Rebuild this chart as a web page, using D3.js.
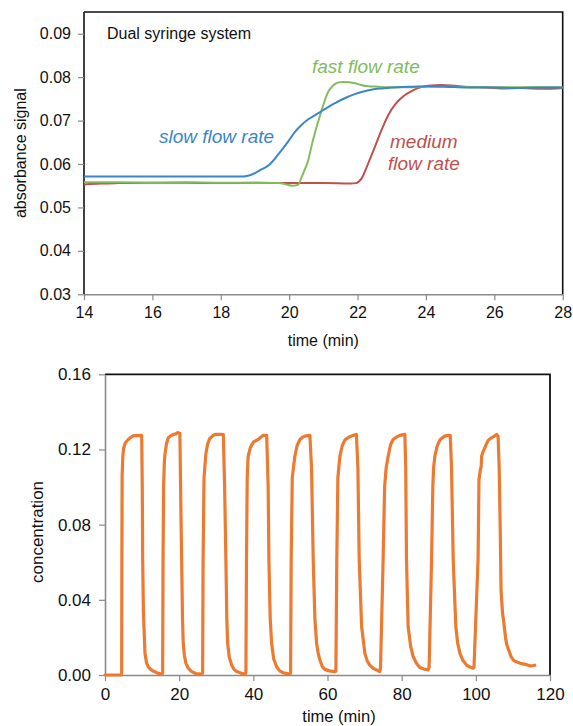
<!DOCTYPE html>
<html>
<head>
<meta charset="utf-8">
<script src="https://cdn.jsdelivr.net/npm/d3@7"></script>
<style>
  html, body { margin: 0; padding: 0; background: #fff; }
  svg { display: block; font-family: "Liberation Sans", Arial, sans-serif; }
</style>
</head>
<body>
<svg id="fig" width="573" height="726"></svg>
<script>
// ---- Panel A: absorbance after a step change (time in min, absorbance) ----
const slowFlow = [
  [14,0.0571],[16,0.0571],[18,0.0571],[18.56,0.0571],[18.8,0.0573],[19.0,0.0579],[19.15,0.0586],
  [19.4,0.0597],[19.6,0.0614],[19.78,0.0632],[20.0,0.0655],[20.17,0.0674],[20.36,0.069],
  [20.56,0.0703],[20.75,0.0712],[20.95,0.0722],[21.14,0.0731],[21.34,0.074],[21.53,0.0748],
  [21.73,0.0755],[21.92,0.0761],[22.12,0.0766],[22.4,0.0771],[22.7,0.0774],[23.19,0.0777],
  [23.6,0.0778],[24.1,0.0779],[24.6,0.0778],[25.2,0.0776],[26,0.0776],[26.6,0.0775],
  [27.3,0.0776],[28,0.0776]
];
const fastFlow = [
  [14,0.0558],[15,0.0558],[16,0.0557],[17,0.0558],[18,0.0557],[19,0.0557],[19.7,0.0556],
  [19.96,0.0552],[20.1,0.055],[20.26,0.0552],[20.37,0.0571],[20.47,0.059],[20.56,0.0609],
  [20.65,0.064],[20.75,0.0671],[20.85,0.0698],[20.95,0.0724],[21.05,0.0748],[21.14,0.0766],
  [21.24,0.0777],[21.34,0.0784],[21.46,0.0788],[21.58,0.0789],[21.75,0.0788],[21.92,0.0786],
  [22.1,0.0782],[22.31,0.0779],[22.6,0.0778],[22.9,0.0777],[23.5,0.0777],[24,0.0778],
  [25,0.0778],[26,0.0777],[27,0.0777],[28,0.0777]
];
const mediumFlow = [
  [14,0.0553],[14.5,0.0555],[15,0.0556],[16,0.0557],[17,0.0557],[18,0.0556],[19,0.0557],
  [20,0.0556],[21,0.0556],[21.8,0.0555],[21.95,0.0556],[22.12,0.0567],[22.31,0.0601],
  [22.51,0.064],[22.7,0.0678],[22.9,0.0713],[23.09,0.0736],[23.24,0.0749],[23.39,0.0759],
  [23.54,0.0766],[23.68,0.0772],[23.87,0.0777],[24.07,0.078],[24.46,0.0782],[24.85,0.078],
  [25.3,0.0777],[25.8,0.0776],[26.2,0.0774],[26.8,0.0775],[27.4,0.0773],[28,0.0775]
];
const absTicks = [0.03,0.04,0.05,0.06,0.07,0.08,0.09];
const timeTicksA = [14,16,18,20,22,24,26,28];

// ---- Panel B: repeated concentration pulses (time in min, concentration) ----
const pulseTrace = [
  [0,0],[4.45,0],
  [4.5,0.002],[4.55,0.06],[4.62,0.106],[4.8,0.116],[5.0,0.1205],[5.5,0.1236],[6.2,0.1252],
  [6.8,0.1262],[7.7,0.1274],[9.9,0.1275],[10.05,0.1],[10.16,0.0613],[10.35,0.035],[10.5,0.0258],
  [10.78,0.0116],[11.2,0.0065],[11.67,0.0044],[12.3,0.003],[13.0,0.0021],[14.2,0.001],[15.3,0.0005],
  [15.55,0.001],[15.65,0.06],[15.8,0.1],[16.0,0.113],[16.2,0.118],[16.6,0.1232],[17.06,0.1262],
  [17.7,0.1272],[18.4,0.128],[19.1,0.1283],[19.6,0.129],[19.9,0.1288],[20.2,0.1285],[20.45,0.09],
  [20.67,0.0613],[20.9,0.03],[21.1,0.0169],[21.4,0.0105],[21.83,0.0062],[22.5,0.0035],
  [23.37,0.0018],[24.5,0.0008],[26.1,0.0005],
  [26.33,0.001],[26.45,0.06],[26.7,0.105],[27.22,0.118],[27.7,0.123],[28.3,0.126],[29.0,0.1272],
  [29.65,0.128],[31.0,0.128],[31.9,0.128],[32.26,0.1],[32.6,0.0613],[32.85,0.03],[33.07,0.0169],
  [33.5,0.0095],[34.15,0.0053],[34.8,0.003],[35.5,0.0018],[36.6,0.001],[37.8,0.0005],
  [38.0,0.001],[38.15,0.06],[38.35,0.105],[38.6,0.1164],[39.2,0.121],[40.0,0.1239],[40.7,0.1247],
  [41.3,0.1253],[42.0,0.1265],[42.67,0.1275],[43.6,0.1275],[44.0,0.1],[44.2,0.0613],[44.55,0.03],
  [44.93,0.0169],[45.5,0.0085],[46.28,0.0044],[47.1,0.0022],[48.06,0.0012],[49.8,0.0005],
  [50.05,0.001],[50.2,0.06],[50.5,0.105],[51.2,0.1164],[51.8,0.122],[52.56,0.1253],[53.2,0.1264],
  [53.9,0.1271],[55.25,0.1275],[55.7,0.11],[56.15,0.0613],[56.6,0.03],[57.06,0.0169],[57.5,0.0115],
  [57.95,0.008],[58.6,0.0045],[59.3,0.003],[60.5,0.0022],[62.0,0.0018],
  [62.26,0.002],[62.5,0.06],[62.8,0.105],[63.34,0.1164],[64.0,0.1222],[64.7,0.125],[65.7,0.1265],
  [66.9,0.1275],[67.8,0.128],[68.2,0.11],[68.55,0.0613],[69.2,0.0258],[70.08,0.0116],[70.7,0.0075],
  [71.4,0.0053],[72.3,0.0036],[73.2,0.0027],[74.1,0.0018],
  [74.3,0.004],[75.0,0.0613],[75.4,0.1],[75.8,0.11],[76.36,0.1164],[77.0,0.1225],[77.7,0.1253],
  [78.6,0.1266],[79.5,0.1275],[80.86,0.128],[81.1,0.11],[81.3,0.0613],[81.75,0.0258],[82.4,0.0155],
  [83.1,0.0098],[84.0,0.0062],[84.9,0.004],[86.0,0.0032],[87.1,0.0027],
  [87.4,0.004],[88.06,0.0613],[88.4,0.1],[88.6,0.11],[88.95,0.1164],[89.6,0.122],[90.3,0.125],
  [91.0,0.1262],[91.6,0.1271],[92.5,0.1275],[93.1,0.1275],[93.45,0.11],[93.9,0.0613],[94.6,0.0258],
  [95.1,0.017],[95.7,0.0116],[96.5,0.0078],[97.5,0.0053],[98.4,0.0042],[99.3,0.0036],
  [99.5,0.004],[100.6,0.0613],[100.85,0.104],[101.2,0.109],[101.45,0.111],[101.55,0.1164],
  [102.0,0.119],[102.7,0.1222],[103.3,0.1248],[104.2,0.1262],[105.0,0.1271],[105.6,0.128],
  [106.0,0.127],[106.3,0.11],[106.6,0.075],[106.8,0.045],[107.2,0.033],[107.6,0.027],[108.0,0.02],
  [108.3,0.0165],[108.7,0.014],[109.0,0.0125],[109.5,0.0098],[110.2,0.0078],[110.9,0.007],
  [112.0,0.0062],[113.7,0.0055],[114.8,0.0048],[115.9,0.0052]
];
const concTicks = [0,0.04,0.08,0.12,0.16];
const timeTicksB = [0,20,40,60,80,100,120];

const svg = d3.select("#fig");
const axisGrey = "#8a8a8a";

function styleAxis(g, domainColor) {
  g.select(".domain").attr("stroke", domainColor).attr("stroke-width", 1.6);
  g.selectAll(".tick line").attr("stroke", axisGrey).attr("stroke-width", 1.2);
  g.selectAll(".tick text").attr("fill", "#111").attr("font-family", "Liberation Sans, Arial, sans-serif");
}

// ================= Panel A =================
{
  const L = 84, R = 562.7, T = 12, B = 294.3;
  const x = d3.scaleLinear().domain([14, 28]).range([L, R]);
  const y = d3.scaleLinear().domain([0.03, 0.095]).range([B, T]);
  const g = svg.append("g");

  // frame (top and right edges black)
  g.append("path")
    .attr("d", `M${L},${T}H${R}V${B}`)
    .attr("fill", "none").attr("stroke", "#111").attr("stroke-width", 1.6);

  const xa = g.append("g").attr("transform", `translate(0,${B})`)
    .call(d3.axisBottom(x).tickValues(timeTicksA).tickSize(6).tickSizeOuter(0).tickPadding(6))
    .attr("font-size", 16);
  styleAxis(xa, axisGrey);

  const ya = g.append("g").attr("transform", `translate(${L},0)`)
    .call(d3.axisLeft(y).tickValues(absTicks).tickFormat(d3.format(".2f")).tickSize(6).tickSizeOuter(0).tickPadding(7))
    .attr("font-size", 16);
  styleAxis(ya, "#111");
  ya.select(".domain").attr("d", `M0,${B}V${T}`);

  const line = d3.line().x(d => x(d[0])).y(d => y(d[1])).curve(d3.curveMonotoneX);
  const series = [
    { data: mediumFlow, color: "#C0504D" },
    { data: fastFlow, color: "#82BC5C" },
    { data: slowFlow, color: "#3B86C8" }
  ];
  series.forEach(s => {
    g.append("path").datum(s.data).attr("d", line)
      .attr("fill", "none").attr("stroke", s.color).attr("stroke-width", 2);
  });

  g.append("text").attr("x", 107).attr("y", 38.5).attr("font-size", 16).attr("fill", "#111")
    .text("Dual syringe system");
  const lab = (tx, ty, txt, col) => g.append("text").attr("x", tx).attr("y", ty)
    .attr("font-size", 19).attr("font-style", "italic").attr("fill", col).text(txt);
  lab(159, 143.3, "slow flow rate", "#3B86C8");
  lab(312, 72.7, "fast flow rate", "#82BC5C");
  lab(390, 148.3, "medium", "#C0504D");
  lab(388, 170, "flow rate", "#C0504D");

  g.append("text").attr("x", (L + R) / 2).attr("y", 345.5).attr("text-anchor", "middle")
    .attr("font-size", 16).attr("fill", "#111").text("time (min)");
  g.append("text").attr("transform", `translate(25.5,${(T + B) / 2}) rotate(-90)`)
    .attr("text-anchor", "middle").attr("font-size", 16).attr("fill", "#111").text("absorbance signal");
}

// ================= Panel B =================
{
  const L = 105, R = 550, T = 374.3, B = 675;
  const x = d3.scaleLinear().domain([0, 120]).range([L, R]);
  const y = d3.scaleLinear().domain([0, 0.16]).range([B, T]);
  const g = svg.append("g");

  g.append("path")
    .attr("d", `M${L},${T}H${R}V${B}`)
    .attr("fill", "none").attr("stroke", "#111").attr("stroke-width", 1.8);

  const xa = g.append("g").attr("transform", `translate(0,${B})`)
    .call(d3.axisBottom(x).tickValues(timeTicksB).tickSize(6).tickSizeOuter(0).tickPadding(7))
    .attr("font-size", 17);
  styleAxis(xa, axisGrey);

  const ya = g.append("g").attr("transform", `translate(${L},0)`)
    .call(d3.axisLeft(y).tickValues(concTicks).tickFormat(d3.format(".2f")).tickSize(6).tickSizeOuter(0).tickPadding(8))
    .attr("font-size", 17);
  styleAxis(ya, axisGrey);

  const line = d3.line().x(d => x(d[0])).y(d => y(d[1])).curve(d3.curveLinear);
  g.append("path").datum(pulseTrace).attr("d", line)
    .attr("fill", "none").attr("stroke", "#EC7A30").attr("stroke-width", 3.2)
    .attr("stroke-linejoin", "round").attr("stroke-linecap", "round");

  g.append("text").attr("x", 339).attr("y", 721.5).attr("text-anchor", "middle")
    .attr("font-size", 16.5).attr("fill", "#111").text("time (min)");
  g.append("text").attr("transform", `translate(43,532) rotate(-90)`)
    .attr("text-anchor", "middle").attr("font-size", 17).attr("fill", "#111").text("concentration");
}
</script>
</body>
</html>
